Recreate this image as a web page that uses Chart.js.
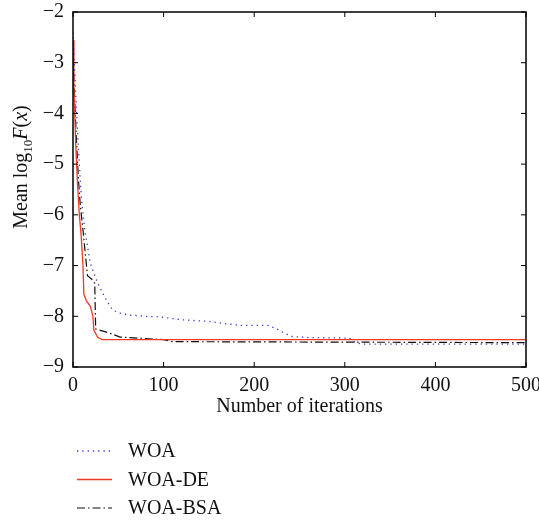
<!DOCTYPE html>
<html>
<head>
<meta charset="utf-8">
<script src="https://cdn.jsdelivr.net/npm/chart.js@4.4.0/dist/chart.umd.min.js"></script>
<style>
html,body{margin:0;padding:0;background:#fff}
</style>
</head>
<body>
<canvas id="myChart" width="539" height="521"></canvas>
<script>
// tick values
const xTicks = [0,100,200,300,400,500]
const yTicks = [-9,-8,-7,-6,-5,-4,-3,-2]

// series (iteration, mean log10 F(x))
const woaX = [0,2,4,6,8,10,13,19,26,32,38,44,52,60,80,100,120,150,170,185,215,225,232,242,260,305,312,320,500]
const woaY = [-2.4,-3.2,-4.0,-4.7,-5.3,-5.8,-6.3,-6.95,-7.29,-7.52,-7.72,-7.88,-7.94,-7.97,-8.0,-8.02,-8.07,-8.1,-8.15,-8.18,-8.18,-8.25,-8.32,-8.4,-8.42,-8.43,-8.52,-8.55,-8.55]

const deX = [0,1,3,5,7,9,11,12,15,19,22,23,27,32,500]
const deY = [-2.55,-3.5,-4.6,-5.4,-6.0,-6.4,-7.0,-7.57,-7.7,-7.8,-8.0,-8.27,-8.41,-8.46,-8.46]

const bsaX = [0,2,4,6,8,11,16,22,24,25,40,52,100,110,500]
const bsaY = [-2.9,-3.8,-4.6,-5.3,-5.8,-6.3,-7.2,-7.29,-7.35,-8.25,-8.33,-8.41,-8.46,-8.5,-8.52]

const labels = ['WOA','WOA-DE','WOA-BSA']
const serif = '"Liberation Serif", "DejaVu Serif", serif'

function toPoints(xs, ys){
    return xs.map((x,i)=>({x:x, y:ys[i]}))
}

function line(c,x1,y1,x2,y2){
    c.beginPath(); c.moveTo(x1,y1); c.lineTo(x2,y2); c.stroke()
}

function noPad(s){
    s.paddingLeft = 0; s.paddingRight = 0; s.paddingTop = 0; s.paddingBottom = 0
}

const decor = {
    id:'decor',
    afterDraw(chart){
        const c = chart.ctx, a = chart.chartArea
        const xs = chart.scales.x, ys = chart.scales.y
        c.save()
        c.strokeStyle = '#000'
        c.setLineDash([])
        c.lineWidth = 1.5
        c.strokeRect(a.left, a.top, a.right-a.left, a.bottom-a.top)
        c.lineWidth = 1
        xTicks.forEach(v=>{
            const p = xs.getPixelForValue(v)
            line(c,p,a.bottom,p,a.bottom-5)
            line(c,p,a.top,p,a.top+5)
        })
        yTicks.forEach(v=>{
            const p = ys.getPixelForValue(v)
            line(c,a.left,p,a.left+5,p)
            line(c,a.right,p,a.right-5,p)
        })

        // x title
        c.fillStyle = '#111'
        c.font = '20px ' + serif
        c.textAlign = 'center'
        c.textBaseline = 'alphabetic'
        c.fillText('Number of iterations', (a.left+a.right)/2, 412)

        // y title with subscript
        const parts = [
            {t:'Mean log', f:'20px ', dy:0},
            {t:'10', f:'13px ', dy:5},
            {t:'F', f:'italic 20px ', dy:0},
            {t:'(', f:'20px ', dy:0},
            {t:'x', f:'italic 20px ', dy:0},
            {t:')', f:'20px ', dy:0}
        ]
        let total = 0
        parts.forEach(p=>{ c.font = p.f + serif; p.w = c.measureText(p.t).width; total += p.w })
        c.translate(27, 167)
        c.rotate(-Math.PI/2)
        c.textAlign = 'left'
        let x = -total/2
        parts.forEach(p=>{ c.font = p.f + serif; c.fillText(p.t, x, p.dy); x += p.w })
        c.setTransform(1,0,0,1,0,0)

        // legend
        chart.data.datasets.forEach((ds,i)=>{
            const y = 451 + i*28.5
            c.strokeStyle = ds.borderColor
            c.lineWidth = ds.borderWidth
            c.setLineDash(ds.borderDash || [])
            line(c,77,y,112,y)
            c.setLineDash([])
            c.fillStyle = '#111'
            c.font = '20px ' + serif
            c.textBaseline = 'middle'
            c.textAlign = 'left'
            c.fillText(ds.label, 128, y+1)
        })
        c.restore()
    }
}

const ctx = document.getElementById('myChart').getContext('2d')
const chart = new Chart(ctx, {
    type: 'line',
    data: {
        datasets: [
            {
                label: labels[0],
                data: toPoints(woaX, woaY),
                borderColor: '#3a3ad6',
                borderWidth: 1.3,
                borderDash: [1.3,4],
                pointRadius: 0,
                fill: false
            },
            {
                label: labels[1],
                data: toPoints(deX, deY),
                borderColor: '#f23a22',
                borderWidth: 1.3,
                pointRadius: 0,
                fill: false
            },
            {
                label: labels[2],
                data: toPoints(bsaX, bsaY),
                borderColor: '#111',
                borderWidth: 1.2,
                borderDash: [8,3,1.5,3],
                pointRadius: 0,
                fill: false
            }
        ]
    },
    options: {
        responsive: false,
        animation: false,
        layout: { padding: { top: 12, right: 13, left: 0, bottom: 0 } },
        plugins: { legend: { display: false }, tooltip: { enabled: false } },
        scales: {
            x: {
                type: 'linear',
                min: 0, max: 500,
                afterBuildTicks: s => { s.ticks = xTicks.map(v=>({value:v})) },
                afterFit: s => { s.height = 154; noPad(s) },
                grid: { display: false, drawTicks: false },
                border: { display: false },
                ticks: { color: '#111', padding: 7, font: { family: serif, size: 20 }, maxRotation: 0 }
            },
            y: {
                min: -9, max: -2,
                afterBuildTicks: s => { s.ticks = yTicks.map(v=>({value:v})) },
                afterFit: s => { s.width = 73; noPad(s) },
                grid: { display: false, drawTicks: false },
                border: { display: false },
                ticks: {
                    color: '#111', padding: 9,
                    font: { family: serif, size: 20 },
                    callback: v => v < 0 ? '\u2212' + Math.abs(v) : String(v)
                }
            }
        }
    },
    plugins: [decor]
})
</script>
</body>
</html>
